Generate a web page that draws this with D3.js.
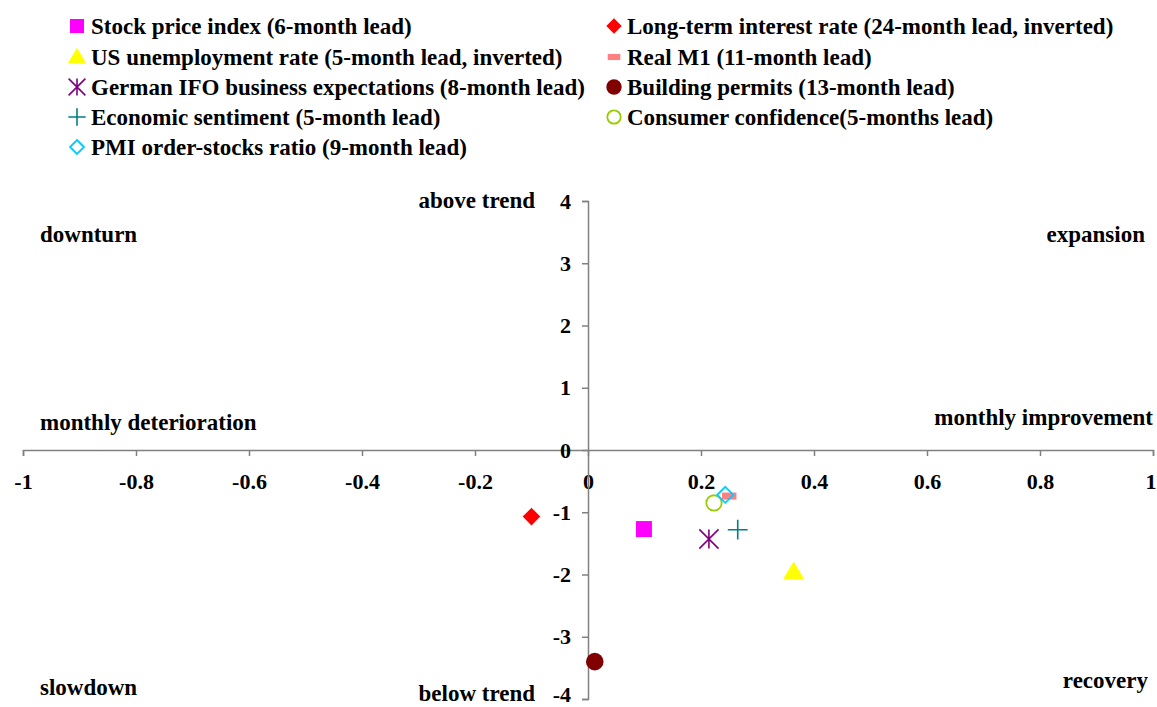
<!DOCTYPE html>
<html>
<head>
<meta charset="utf-8">
<script src="https://cdn.jsdelivr.net/npm/d3@7"></script>
<style>
  body { margin: 0; background: #fff; }
  text { font-family: "Liberation Serif", "Times New Roman", serif; font-weight: bold; }
</style>
</head>
<body>
<div id="chart"></div>
<script>
// Series (order = legend order)
const seriesNames = [
  "Stock price index (6-month lead)",
  "Long-term interest rate (24-month lead, inverted)",
  "US unemployment rate (5-month lead, inverted)",
  "Real M1 (11-month lead)",
  "German IFO business expectations (8-month lead)",
  "Building permits (13-month lead)",
  "Economic sentiment (5-month lead)",
  "Consumer confidence(5-months lead)",
  "PMI order-stocks ratio (9-month lead)"
];
// x = monthly change, y = deviation from trend
const xValues = [0.099, -0.1, 0.364, 0.25, 0.214, 0.012, 0.265, 0.223, 0.243];
const yValues = [-1.27, -1.07, -1.96, -0.74, -1.43, -3.4, -1.28, -0.85, -0.72];
const markerKinds = ["square", "diamond", "triangle", "dash", "asterisk", "dot", "plus", "ring", "diamondOpen"];
const markerColors = ["#ff00ff", "#ff0000", "#ffff00", "#ff8080", "#800080", "#800000", "#008080", "#99cc00", "#00ccff"];

const xTicks = [-1, -0.8, -0.6, -0.4, -0.2, 0, 0.2, 0.4, 0.6, 0.8, 1];
const yTicks = [-4, -3, -2, -1, 0, 1, 2, 3, 4];

const width = 1157, height = 707;

const svg = d3.select("#chart").append("svg")
  .attr("width", width)
  .attr("height", height);

const x = d3.scaleLinear().domain([-1, 1]).range([23, 1153]);
const y = d3.scaleLinear().domain([-4, 4]).range([699, 201]);

// plain hyphen minus like the original
const fmt = d => String(+d.toFixed(1)).replace("\u2212", "-");

// Axes
const xAxis = svg.append("g")
  .attr("transform", "translate(0," + y(0) + ")")
  .call(d3.axisBottom(x).tickValues(xTicks).tickSize(6).tickPadding(20).tickFormat(fmt));
const yAxis = svg.append("g")
  .attr("transform", "translate(" + x(0) + ",0)")
  .call(d3.axisLeft(y).tickValues(yTicks).tickSize(6).tickPadding(11).tickFormat(fmt));

[xAxis, yAxis].forEach(function (ax) {
  ax.select(".domain").attr("stroke", "#808080").attr("stroke-width", 1.5);
  ax.selectAll(".tick line").attr("stroke", "#808080").attr("stroke-width", 1.5);
  ax.selectAll(".tick text")
    .attr("fill", "#000")
    .style("font-family", "'Liberation Serif', serif")
    .style("font-weight", "bold")
    .style("font-size", "22px");
});
xAxis.selectAll(".tick text").attr("dy", "0.6em");
// keep the outermost labels inside the frame
xAxis.selectAll(".tick text").filter(d => d === 1).attr("text-anchor", "end").attr("x", 3);
yAxis.selectAll(".tick text").filter(d => d === -4).attr("dy", "0.1em");

// Marker drawing
function drawMarker(g, kind, color, s) {
  if (kind === "square") {
    g.append("path").attr("d", d3.symbol(d3.symbolSquare, s * s)()).attr("fill", color);
  } else if (kind === "diamond") {
    const r = s * 0.55;
    g.append("path").attr("d", `M0,${-r}L${r},0L0,${r}L${-r},0Z`).attr("fill", color);
  } else if (kind === "diamondOpen") {
    const r = s * 0.5;
    g.append("path").attr("d", `M0,${-r}L${r},0L0,${r}L${-r},0Z`)
      .attr("fill", "none").attr("stroke", color).attr("stroke-width", 1.8);
  } else if (kind === "triangle") {
    const h = s * 1.1, w = s * 1.3;
    g.append("path").attr("d", `M0,${-h * 0.6}L${w / 2},${h * 0.4}L${-w / 2},${h * 0.4}Z`).attr("fill", color);
  } else if (kind === "dash") {
    g.append("rect").attr("x", -s * 0.45).attr("y", -s * 0.22).attr("width", s * 0.9).attr("height", s * 0.44).attr("fill", color);
  } else if (kind === "asterisk") {
    const r = s * 0.6;
    g.append("path").attr("d", `M${-r},${-r}L${r},${r}M${-r},${r}L${r},${-r}M0,${-r}L0,${r}`)
      .attr("stroke", color).attr("stroke-width", 1.6).attr("fill", "none");
  } else if (kind === "plus") {
    const r = s * 0.62;
    g.append("path").attr("d", `M${-r},0L${r},0M0,${-r}L0,${r}`)
      .attr("stroke", color).attr("stroke-width", 1.6).attr("fill", "none");
  } else if (kind === "dot") {
    g.append("circle").attr("r", s * 0.55).attr("fill", color);
  } else if (kind === "ring") {
    g.append("circle").attr("r", s * 0.48).attr("fill", "none").attr("stroke", color).attr("stroke-width", 1.8);
  }
}

// Points
seriesNames.forEach(function (name, i) {
  const g = svg.append("g")
    .attr("transform", "translate(" + x(xValues[i]) + "," + y(yValues[i]) + ")");
  drawMarker(g, markerKinds[i], markerColors[i], 16);
});

// Legend
const legendCols = [{ mx: 77, tx: 91 }, { mx: 614, tx: 627 }];
const legendRows = [26, 57, 87, 117, 147];
seriesNames.forEach(function (name, i) {
  const col = legendCols[i % 2];
  const row = legendRows[Math.floor(i / 2)];
  const g = svg.append("g").attr("transform", "translate(" + col.mx + "," + row + ")");
  drawMarker(g, markerKinds[i], markerColors[i], 14);
  svg.append("text")
    .attr("x", col.tx)
    .attr("y", row)
    .attr("dy", "0.35em")
    .style("font-size", "23px")
    .text(name);
});

// Quadrant / trend labels
const quadLabels = [
  { t: "downturn", x: 40, y: 234, a: "start" },
  { t: "expansion", x: 1145, y: 234, a: "end" },
  { t: "monthly deterioration", x: 40, y: 422, a: "start" },
  { t: "monthly improvement", x: 1153, y: 417, a: "end" },
  { t: "slowdown", x: 40, y: 687, a: "start" },
  { t: "recovery", x: 1148, y: 680, a: "end" },
  { t: "above trend", x: 535, y: 200, a: "end" },
  { t: "below trend", x: 535, y: 693, a: "end" }
];
svg.selectAll(".quad")
  .data(quadLabels)
  .enter()
  .append("text")
  .attr("class", "quad")
  .attr("x", d => d.x)
  .attr("y", d => d.y)
  .attr("dy", "0.35em")
  .attr("text-anchor", d => d.a)
  .style("font-size", "23px")
  .text(d => d.t);
</script>
</body>
</html>
